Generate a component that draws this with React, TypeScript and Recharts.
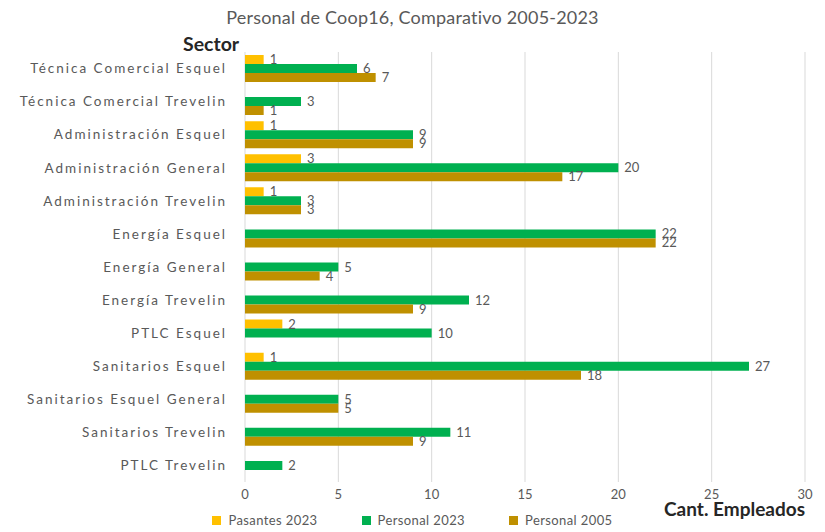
import { Bar, BarChart, XAxis, YAxis, CartesianGrid, Legend, LabelList } from "recharts"

const sectores = [
  "Técnica Comercial Esquel",
  "Técnica Comercial Trevelin",
  "Administración Esquel",
  "Administración General",
  "Administración Trevelin",
  "Energía Esquel",
  "Energía General",
  "Energía Trevelin",
  "PTLC Esquel",
  "Sanitarios Esquel",
  "Sanitarios Esquel General",
  "Sanitarios Trevelin",
  "PTLC Trevelin",
]
const pasantes2023 = [1, 0, 1, 3, 1, 0, 0, 0, 2, 1, 0, 0, 0]
const personal2023 = [6, 3, 9, 20, 3, 22, 5, 12, 10, 27, 5, 11, 2]
const personal2005 = [7, 1, 9, 17, 3, 22, 4, 9, 0, 18, 5, 9, 0]
const xTicks = [0, 5, 10, 15, 20, 25, 30]

const data = sectores.map((s, i) => ({
  sector: s,
  pasantes: pasantes2023[i],
  p2023: personal2023[i],
  p2005: personal2005[i],
}))

const FONT = "Lato, 'Open Sans', sans-serif"
const GRAY = "#595959"

const series = [
  { key: "pasantes", name: "Pasantes 2023", color: "#FFC000" },
  { key: "p2023", name: "Personal 2023", color: "#00B050" },
  { key: "p2005", name: "Personal 2005", color: "#BF9000" },
]

const hideZero = (v: any) => (v === 0 ? "" : v)

function LegendBox() {
  return (
    <div style={{ display: "flex", justifyContent: "center", gap: 44, fontFamily: FONT, fontSize: 13, color: GRAY, letterSpacing: 0.4 }}>
      {series.map((s) => (
        <div key={s.key} style={{ display: "flex", alignItems: "center", gap: 7 }}>
          <span style={{ width: 9, height: 9, background: s.color, display: "inline-block" }} />
          <span>{s.name}</span>
        </div>
      ))}
    </div>
  )
}

export default function App() {
  return (
    <div style={{ position: "absolute", left: 0, top: 0, width: 825, height: 532, background: "#fff", fontFamily: FONT }}>
      <div style={{ position: "absolute", top: 6, left: 0, width: 825, textAlign: "center", fontSize: 18, color: GRAY, letterSpacing: 0.2 }}>
        Personal de Coop16, Comparativo 2005-2023
      </div>
      <div style={{ position: "absolute", top: 32, left: 183, fontSize: 19.5, fontWeight: 700, color: "#262626" }}>Sector</div>
      <div style={{ position: "absolute", top: 497, right: 20, fontSize: 19, fontWeight: 700, color: "#262626" }}>Cant. Empleados</div>
      <BarChart
        width={825}
        height={532}
        data={data}
        layout="vertical"
        margin={{ top: 52, right: 20, bottom: 10, left: 0 }}
        barCategoryGap={3}
        barGap={0}
      >
        <CartesianGrid horizontal={false} stroke="#d9d9d9" />
        <XAxis
          type="number"
          domain={[0, 30]}
          ticks={xTicks}
          axisLine={false}
          tickLine={false}
          height={20}
          tick={{ fill: GRAY, fontSize: 13, fontFamily: FONT }}
        />
        <YAxis
          type="category"
          dataKey="sector"
          width={245}
          axisLine={false}
          tickLine={false}
          tickMargin={12}
          interval={0}
          tick={{ fill: GRAY, fontSize: 13.5, fontFamily: FONT, letterSpacing: 2 }}
        />
        <Legend
          content={() => <LegendBox />}
          wrapperStyle={{ position: "absolute", top: 512, left: 0, width: 825, height: 20 }}
        />
        {series.map((s) => (
          <Bar key={s.key} dataKey={s.key} name={s.name} fill={s.color} isAnimationActive={false}>
            <LabelList dataKey={s.key} position="right" offset={6} formatter={hideZero} fill={GRAY} fontSize={13} fontFamily={FONT} />
          </Bar>
        ))}
      </BarChart>
    </div>
  )
}
